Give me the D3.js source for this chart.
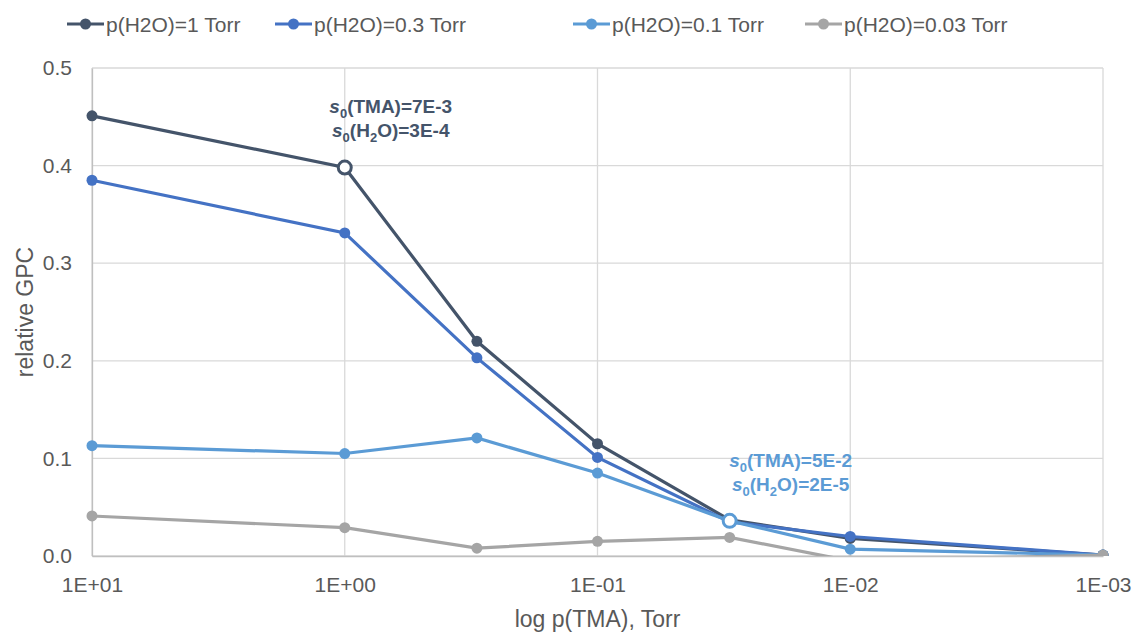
<!DOCTYPE html>
<html lang="en">
<head>
<meta charset="UTF-8">
<title>relative GPC</title>
<script src="https://cdn.jsdelivr.net/npm/d3@7"></script>
<style>
  body { margin: 0; background: #fff; }
  text { font-family: "Liberation Sans", Arial, sans-serif; }
</style>
</head>
<body>
<script>
let width = 1142;
let height = 634;
let margin = {top: 68, right: 39, bottom: 78, left: 92};

// pressures of TMA, Torr
let pTMA = [10, 1, 0.3, 0.1, 0.03, 0.01, 0.001];
let xTicks = [10, 1, 0.1, 0.01, 0.001];
let yTicks = [0, 0.1, 0.2, 0.3, 0.4, 0.5];

let names = ['p(H2O)=1 Torr', 'p(H2O)=0.3 Torr', 'p(H2O)=0.1 Torr', 'p(H2O)=0.03 Torr'];
let colors = ['#44546A', '#4472C4', '#5B9BD5', '#A5A5A5'];
let gpc1 = [0.451, 0.398, 0.220, 0.115, 0.037, 0.018, 0.001];
let gpc03 = [0.385, 0.331, 0.203, 0.101, 0.035, 0.020, 0.001];
let gpc01 = [0.113, 0.105, 0.121, 0.085, 0.036, 0.007, 0.001];
let gpc003 = [0.041, 0.029, 0.008, 0.015, 0.019, -0.005, 0.001];
let seriesValues = [gpc1, gpc03, gpc01, gpc003];

// open markers and their notes: [series, point index]
let hollow = [[0, 1], [2, 4]];
let notes = [
  {series: 0, at: 1, lines: [['TMA', '7E-3'], ['H2O', '3E-4']], dx: 46, dy: -55},
  {series: 2, at: 4, lines: [['TMA', '5E-2'], ['H2O', '2E-5']], dx: 61, dy: -54}
];

let x = d3.scaleLog()
  .domain([10, 0.001])
  .range([margin.left, width - margin.right]);
let y = d3.scaleLinear()
  .domain([0, 0.5])
  .range([height - margin.bottom, margin.top]);

let svg = d3.select('body').append('svg')
  .attr('width', width)
  .attr('height', height);

// grid
svg.append('g')
  .selectAll('line')
  .data(yTicks)
  .enter()
  .append('line')
  .attr('x1', margin.left)
  .attr('x2', width - margin.right)
  .attr('y1', d => y(d))
  .attr('y2', d => y(d))
  .attr('stroke', '#D9D9D9')
  .attr('stroke-width', 1.3);

svg.append('g')
  .selectAll('line')
  .data(xTicks)
  .enter()
  .append('line')
  .attr('x1', d => x(d))
  .attr('x2', d => x(d))
  .attr('y1', margin.top)
  .attr('y2', height - margin.bottom)
  .attr('stroke', '#D9D9D9')
  .attr('stroke-width', 1.3);

// axes
let xAxis = d3.axisBottom(x)
  .tickValues(xTicks)
  .tickSize(0)
  .tickPadding(21)
  .tickFormat(d => d.toExponential(0).toUpperCase().replace(/E([+-])(\d)$/, 'E$10$2'));
let yAxis = d3.axisLeft(y)
  .tickValues(yTicks)
  .tickSize(0)
  .tickPadding(20)
  .tickFormat(d3.format('.1f'));

let gx = svg.append('g')
  .attr('transform', 'translate(0,' + (height - margin.bottom) + ')')
  .call(xAxis);
let gy = svg.append('g')
  .attr('transform', 'translate(' + margin.left + ',0)')
  .call(yAxis);

[gx, gy].forEach(function (g) {
  g.select('.domain').attr('stroke', '#BFBFBF').attr('stroke-width', 1.3);
  g.selectAll('text')
    .attr('fill', '#595959')
    .style('font-size', '21px');
});

svg.append('text')
  .attr('x', (margin.left + width - margin.right) / 2)
  .attr('y', 627)
  .attr('text-anchor', 'middle')
  .attr('fill', '#595959')
  .style('font-size', '23px')
  .text('log p(TMA), Torr');

svg.append('text')
  .attr('transform', 'translate(33,' + (margin.top + (height - margin.bottom - margin.top) / 2) + ') rotate(-90)')
  .attr('text-anchor', 'middle')
  .attr('fill', '#595959')
  .style('font-size', '23px')
  .text('relative GPC');

// series
svg.append('clipPath')
  .attr('id', 'plot')
  .append('rect')
  .attr('x', margin.left - 10)
  .attr('y', margin.top - 10)
  .attr('width', width - margin.left - margin.right + 20)
  .attr('height', height - margin.top - margin.bottom + 10);

let line = d3.line()
  .x((d, i) => x(pTMA[i]))
  .y(d => y(d));

let plot = svg.append('g').attr('clip-path', 'url(#plot)');

let series = plot.selectAll('g.series')
  .data(seriesValues)
  .enter()
  .append('g')
  .attr('class', 'series');

series.append('path')
  .attr('d', d => line(d))
  .attr('fill', 'none')
  .attr('stroke', (d, i) => colors[i])
  .attr('stroke-width', 3.2);

series.each(function (vals, s) {
  d3.select(this).selectAll('circle')
    .data(vals)
    .enter()
    .append('circle')
    .attr('cx', (d, i) => x(pTMA[i]))
    .attr('cy', d => y(d))
    .attr('r', 5.5)
    .attr('fill', colors[s]);
});

svg.selectAll('circle.hollow')
  .data(hollow)
  .enter()
  .append('circle')
  .attr('class', 'hollow')
  .attr('cx', d => x(pTMA[d[1]]))
  .attr('cy', d => y(seriesValues[d[0]][d[1]]))
  .attr('r', 6.5)
  .attr('fill', '#fff')
  .attr('stroke', d => colors[d[0]])
  .attr('stroke-width', 3);

// notes
notes.forEach(function (n) {
  let cx = x(pTMA[n.at]) + n.dx;
  let cy = y(seriesValues[n.series][n.at]) + n.dy;
  n.lines.forEach(function (l, k) {
    let t = svg.append('text')
      .attr('x', cx)
      .attr('y', cy + k * 24)
      .attr('text-anchor', 'middle')
      .attr('fill', colors[n.series])
      .style('font-size', '19px')
      .style('font-weight', 'bold');
    t.append('tspan').style('font-style', 'italic').text('s');
    t.append('tspan').attr('dy', 5).style('font-size', '13px').text('0');
    if (l[0] === 'H2O') {
      t.append('tspan').attr('dy', -5).text('(H');
      t.append('tspan').attr('dy', 5).style('font-size', '13px').text('2');
      t.append('tspan').attr('dy', -5).text('O)=' + l[1]);
    } else {
      t.append('tspan').attr('dy', -5).text('(' + l[0] + ')=' + l[1]);
    }
  });
});

// legend
let legendX = [67, 275, 573, 805];
let legend = svg.selectAll('g.legend')
  .data(names)
  .enter()
  .append('g')
  .attr('class', 'legend')
  .attr('transform', (d, i) => 'translate(' + legendX[i] + ',24)');

legend.append('line')
  .attr('x1', 0)
  .attr('x2', 37)
  .attr('stroke', (d, i) => colors[i])
  .attr('stroke-width', 3.2);
legend.append('circle')
  .attr('cx', 18.5)
  .attr('r', 5.5)
  .attr('fill', (d, i) => colors[i]);
legend.append('text')
  .attr('x', 39)
  .attr('y', 8)
  .attr('fill', '#595959')
  .style('font-size', '21px')
  .text(d => d);
</script>
</body>
</html>
